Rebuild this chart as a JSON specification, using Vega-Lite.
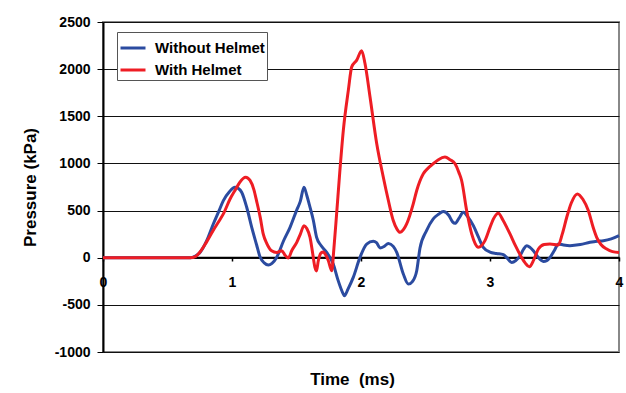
{
  "$schema": "https://vega.github.io/schema/vega-lite/v6.json",
  "width": 516,
  "height": 330,
  "autosize": "none",
  "padding": {"left": 103, "top": 22, "right": 7, "bottom": 41},
  "background": "white",
  "config": {
    "font": "Liberation Sans",
    "view": {"stroke": "#888", "strokeWidth": 2},
    "axis": {"labelFont": "Liberation Sans", "titleFont": "Liberation Sans", "labelFontWeight": "bold", "titleFontWeight": "bold", "labelColor": "#000", "titleColor": "#000"}
  },
  "datasets": {
    "pressure": [
      {"t": 0, "p": 0, "s": "Without Helmet"},
      {"t": 0.68, "p": 0, "s": "Without Helmet"},
      {"t": 0.72, "p": 20, "s": "Without Helmet"},
      {"t": 0.752, "p": 56, "s": "Without Helmet"},
      {"t": 0.804, "p": 181, "s": "Without Helmet"},
      {"t": 0.855, "p": 358, "s": "Without Helmet"},
      {"t": 0.9, "p": 500, "s": "Without Helmet"},
      {"t": 0.933, "p": 606, "s": "Without Helmet"},
      {"t": 0.98, "p": 700, "s": "Without Helmet"},
      {"t": 1.023, "p": 748, "s": "Without Helmet"},
      {"t": 1.05, "p": 735, "s": "Without Helmet"},
      {"t": 1.075, "p": 695, "s": "Without Helmet"},
      {"t": 1.114, "p": 535, "s": "Without Helmet"},
      {"t": 1.153, "p": 322, "s": "Without Helmet"},
      {"t": 1.19, "p": 140, "s": "Without Helmet"},
      {"t": 1.217, "p": 10, "s": "Without Helmet"},
      {"t": 1.25, "p": -55, "s": "Without Helmet"},
      {"t": 1.282, "p": -78, "s": "Without Helmet"},
      {"t": 1.31, "p": -60, "s": "Without Helmet"},
      {"t": 1.346, "p": 3, "s": "Without Helmet"},
      {"t": 1.4, "p": 180, "s": "Without Helmet"},
      {"t": 1.45, "p": 322, "s": "Without Helmet"},
      {"t": 1.5, "p": 500, "s": "Without Helmet"},
      {"t": 1.53, "p": 600, "s": "Without Helmet"},
      {"t": 1.558, "p": 748, "s": "Without Helmet"},
      {"t": 1.58, "p": 660, "s": "Without Helmet"},
      {"t": 1.6, "p": 560, "s": "Without Helmet"},
      {"t": 1.63, "p": 400, "s": "Without Helmet"},
      {"t": 1.656, "p": 216, "s": "Without Helmet"},
      {"t": 1.69, "p": 130, "s": "Without Helmet"},
      {"t": 1.734, "p": 56, "s": "Without Helmet"},
      {"t": 1.785, "p": -67, "s": "Without Helmet"},
      {"t": 1.82, "p": -230, "s": "Without Helmet"},
      {"t": 1.863, "p": -386, "s": "Without Helmet"},
      {"t": 1.871, "p": -404, "s": "Without Helmet"},
      {"t": 1.9, "p": -330, "s": "Without Helmet"},
      {"t": 1.94, "p": -209, "s": "Without Helmet"},
      {"t": 1.992, "p": 3, "s": "Without Helmet"},
      {"t": 2.044, "p": 145, "s": "Without Helmet"},
      {"t": 2.095, "p": 174, "s": "Without Helmet"},
      {"t": 2.12, "p": 160, "s": "Without Helmet"},
      {"t": 2.147, "p": 103, "s": "Without Helmet"},
      {"t": 2.18, "p": 120, "s": "Without Helmet"},
      {"t": 2.212, "p": 152, "s": "Without Helmet"},
      {"t": 2.25, "p": 120, "s": "Without Helmet"},
      {"t": 2.277, "p": 56, "s": "Without Helmet"},
      {"t": 2.328, "p": -173, "s": "Without Helmet"},
      {"t": 2.367, "p": -280, "s": "Without Helmet"},
      {"t": 2.4, "p": -250, "s": "Without Helmet"},
      {"t": 2.432, "p": -138, "s": "Without Helmet"},
      {"t": 2.457, "p": 100, "s": "Without Helmet"},
      {"t": 2.508, "p": 287, "s": "Without Helmet"},
      {"t": 2.56, "p": 412, "s": "Without Helmet"},
      {"t": 2.6, "p": 460, "s": "Without Helmet"},
      {"t": 2.638, "p": 489, "s": "Without Helmet"},
      {"t": 2.68, "p": 450, "s": "Without Helmet"},
      {"t": 2.71, "p": 380, "s": "Without Helmet"},
      {"t": 2.729, "p": 365, "s": "Without Helmet"},
      {"t": 2.76, "p": 420, "s": "Without Helmet"},
      {"t": 2.793, "p": 482, "s": "Without Helmet"},
      {"t": 2.83, "p": 430, "s": "Without Helmet"},
      {"t": 2.871, "p": 340, "s": "Without Helmet"},
      {"t": 2.91, "p": 220, "s": "Without Helmet"},
      {"t": 2.948, "p": 110, "s": "Without Helmet"},
      {"t": 3.0, "p": 60, "s": "Without Helmet"},
      {"t": 3.05, "p": 45, "s": "Without Helmet"},
      {"t": 3.104, "p": 32, "s": "Without Helmet"},
      {"t": 3.13, "p": 0, "s": "Without Helmet"},
      {"t": 3.168, "p": -50, "s": "Without Helmet"},
      {"t": 3.2, "p": -30, "s": "Without Helmet"},
      {"t": 3.233, "p": 21, "s": "Without Helmet"},
      {"t": 3.26, "p": 90, "s": "Without Helmet"},
      {"t": 3.285, "p": 128, "s": "Without Helmet"},
      {"t": 3.31, "p": 110, "s": "Without Helmet"},
      {"t": 3.336, "p": 74, "s": "Without Helmet"},
      {"t": 3.37, "p": 10, "s": "Without Helmet"},
      {"t": 3.414, "p": -39, "s": "Without Helmet"},
      {"t": 3.44, "p": -30, "s": "Without Helmet"},
      {"t": 3.465, "p": 3, "s": "Without Helmet"},
      {"t": 3.5, "p": 80, "s": "Without Helmet"},
      {"t": 3.53, "p": 146, "s": "Without Helmet"},
      {"t": 3.57, "p": 135, "s": "Without Helmet"},
      {"t": 3.62, "p": 128, "s": "Without Helmet"},
      {"t": 3.7, "p": 140, "s": "Without Helmet"},
      {"t": 3.775, "p": 163, "s": "Without Helmet"},
      {"t": 3.83, "p": 175, "s": "Without Helmet"},
      {"t": 3.879, "p": 181, "s": "Without Helmet"},
      {"t": 3.94, "p": 200, "s": "Without Helmet"},
      {"t": 4.0, "p": 234, "s": "Without Helmet"},
      {"t": 0, "p": 0, "s": "With Helmet"},
      {"t": 0.674, "p": 0, "s": "With Helmet"},
      {"t": 0.72, "p": 15, "s": "With Helmet"},
      {"t": 0.752, "p": 60, "s": "With Helmet"},
      {"t": 0.8, "p": 160, "s": "With Helmet"},
      {"t": 0.853, "p": 287, "s": "With Helmet"},
      {"t": 0.9, "p": 390, "s": "With Helmet"},
      {"t": 0.933, "p": 465, "s": "With Helmet"},
      {"t": 0.984, "p": 620, "s": "With Helmet"},
      {"t": 1.03, "p": 730, "s": "With Helmet"},
      {"t": 1.06, "p": 800, "s": "With Helmet"},
      {"t": 1.106, "p": 854, "s": "With Helmet"},
      {"t": 1.14, "p": 820, "s": "With Helmet"},
      {"t": 1.17, "p": 720, "s": "With Helmet"},
      {"t": 1.19, "p": 606, "s": "With Helmet"},
      {"t": 1.22, "p": 420, "s": "With Helmet"},
      {"t": 1.242, "p": 252, "s": "With Helmet"},
      {"t": 1.27, "p": 150, "s": "With Helmet"},
      {"t": 1.307, "p": 74, "s": "With Helmet"},
      {"t": 1.346, "p": 56, "s": "With Helmet"},
      {"t": 1.385, "p": 74, "s": "With Helmet"},
      {"t": 1.41, "p": 30, "s": "With Helmet"},
      {"t": 1.437, "p": -3, "s": "With Helmet"},
      {"t": 1.463, "p": 74, "s": "With Helmet"},
      {"t": 1.502, "p": 163, "s": "With Helmet"},
      {"t": 1.53, "p": 250, "s": "With Helmet"},
      {"t": 1.558, "p": 340, "s": "With Helmet"},
      {"t": 1.58, "p": 310, "s": "With Helmet"},
      {"t": 1.605, "p": 216, "s": "With Helmet"},
      {"t": 1.625, "p": 50, "s": "With Helmet"},
      {"t": 1.643, "p": -103, "s": "With Helmet"},
      {"t": 1.655, "p": -140, "s": "With Helmet"},
      {"t": 1.669, "p": -32, "s": "With Helmet"},
      {"t": 1.69, "p": 50, "s": "With Helmet"},
      {"t": 1.708, "p": 60, "s": "With Helmet"},
      {"t": 1.73, "p": 20, "s": "With Helmet"},
      {"t": 1.747, "p": -32, "s": "With Helmet"},
      {"t": 1.773, "p": -138, "s": "With Helmet"},
      {"t": 1.79, "p": 100, "s": "With Helmet"},
      {"t": 1.811, "p": 465, "s": "With Helmet"},
      {"t": 1.835, "p": 900, "s": "With Helmet"},
      {"t": 1.863, "p": 1351, "s": "With Helmet"},
      {"t": 1.902, "p": 1777, "s": "With Helmet"},
      {"t": 1.928, "p": 2024, "s": "With Helmet"},
      {"t": 1.967, "p": 2096, "s": "With Helmet"},
      {"t": 2.005, "p": 2195, "s": "With Helmet"},
      {"t": 2.031, "p": 2060, "s": "With Helmet"},
      {"t": 2.07, "p": 1705, "s": "With Helmet"},
      {"t": 2.122, "p": 1209, "s": "With Helmet"},
      {"t": 2.173, "p": 854, "s": "With Helmet"},
      {"t": 2.21, "p": 620, "s": "With Helmet"},
      {"t": 2.25, "p": 394, "s": "With Helmet"},
      {"t": 2.28, "p": 300, "s": "With Helmet"},
      {"t": 2.302, "p": 269, "s": "With Helmet"},
      {"t": 2.33, "p": 300, "s": "With Helmet"},
      {"t": 2.354, "p": 358, "s": "With Helmet"},
      {"t": 2.405, "p": 571, "s": "With Helmet"},
      {"t": 2.432, "p": 713, "s": "With Helmet"},
      {"t": 2.483, "p": 890, "s": "With Helmet"},
      {"t": 2.52, "p": 950, "s": "With Helmet"},
      {"t": 2.56, "p": 997, "s": "With Helmet"},
      {"t": 2.6, "p": 1040, "s": "With Helmet"},
      {"t": 2.651, "p": 1067, "s": "With Helmet"},
      {"t": 2.69, "p": 1040, "s": "With Helmet"},
      {"t": 2.729, "p": 997, "s": "With Helmet"},
      {"t": 2.76, "p": 900, "s": "With Helmet"},
      {"t": 2.78, "p": 819, "s": "With Helmet"},
      {"t": 2.819, "p": 500, "s": "With Helmet"},
      {"t": 2.858, "p": 252, "s": "With Helmet"},
      {"t": 2.885, "p": 150, "s": "With Helmet"},
      {"t": 2.909, "p": 110, "s": "With Helmet"},
      {"t": 2.935, "p": 130, "s": "With Helmet"},
      {"t": 2.961, "p": 181, "s": "With Helmet"},
      {"t": 3.0, "p": 322, "s": "With Helmet"},
      {"t": 3.03, "p": 420, "s": "With Helmet"},
      {"t": 3.064, "p": 471, "s": "With Helmet"},
      {"t": 3.1, "p": 400, "s": "With Helmet"},
      {"t": 3.13, "p": 322, "s": "With Helmet"},
      {"t": 3.155, "p": 252, "s": "With Helmet"},
      {"t": 3.2, "p": 120, "s": "With Helmet"},
      {"t": 3.245, "p": 3, "s": "With Helmet"},
      {"t": 3.275, "p": -60, "s": "With Helmet"},
      {"t": 3.305, "p": -96, "s": "With Helmet"},
      {"t": 3.34, "p": -20, "s": "With Helmet"},
      {"t": 3.375, "p": 92, "s": "With Helmet"},
      {"t": 3.42, "p": 140, "s": "With Helmet"},
      {"t": 3.465, "p": 146, "s": "With Helmet"},
      {"t": 3.53, "p": 135, "s": "With Helmet"},
      {"t": 3.56, "p": 250, "s": "With Helmet"},
      {"t": 3.595, "p": 429, "s": "With Helmet"},
      {"t": 3.63, "p": 580, "s": "With Helmet"},
      {"t": 3.677, "p": 677, "s": "With Helmet"},
      {"t": 3.72, "p": 620, "s": "With Helmet"},
      {"t": 3.762, "p": 500, "s": "With Helmet"},
      {"t": 3.8, "p": 320, "s": "With Helmet"},
      {"t": 3.827, "p": 216, "s": "With Helmet"},
      {"t": 3.86, "p": 140, "s": "With Helmet"},
      {"t": 3.905, "p": 92, "s": "With Helmet"},
      {"t": 3.95, "p": 65, "s": "With Helmet"},
      {"t": 4.0, "p": 56, "s": "With Helmet"}
    ]
  },
  "data": {"name": "pressure"},
  "encoding": {
    "x": {
      "field": "t", "type": "quantitative",
      "scale": {"domain": [0, 4], "nice": false, "zero": false},
      "axis": {
        "title": "Time\u00a0 (ms)", "values": [0, 1, 2, 3, 4], "labelExpr": "'' + datum.value",
        "offset": -95, "grid": false, "domainColor": "#000", "domainWidth": 1.5,
        "tickColor": "#000", "tickSize": 4, "tickWidth": 1.5,
        "labelFontSize": 14, "labelPadding": 14, "labelFlush": false, "labelOverlap": false,
        "titleFontSize": 17, "titleX": 249, "titleY": 127, "titleBaseline": "alphabetic", "titleAlign": "center"
      }
    },
    "y": {
      "field": "p", "type": "quantitative",
      "scale": {"domain": [-1000, 2500], "nice": false},
      "axis": {
        "title": "Pressure (kPa)", "values": [-1000, -500, 0, 500, 1000, 1500, 2000, 2500],
        "labelExpr": "'' + datum.value", "grid": true, "gridColor": "#111", "gridWidth": 1, "gridOpacity": 1,
        "domainColor": "#000", "domainWidth": 2, "tickColor": "#000", "tickSize": 6, "tickWidth": 1,
        "labelFontSize": 14, "labelPadding": 7,
        "titleFontSize": 17, "titleX": -73, "titleY": 165, "titleAngle": 270,
        "titleAlign": "center", "titleBaseline": "middle"
      }
    },
    "color": {
      "field": "s", "type": "nominal",
      "scale": {"domain": ["Without Helmet", "With Helmet"], "range": ["#2B4BA0", "#EE1D24"]},
      "legend": {
        "title": null, "orient": "none", "legendX": 14, "legendY": 10,
        "fillColor": "white", "strokeColor": "#555", "padding": 2,
        "symbolType": "stroke", "symbolSize": 625, "symbolStrokeWidth": 3,
        "labelFontSize": 15, "labelFontWeight": "bold", "labelFont": "Liberation Sans", "labelColor": "#000",
        "labelOffset": 8, "rowPadding": 0
      }
    }
  },
  "layer": [
    {"transform": [{"filter": "datum.s === 'Without Helmet'"}], "mark": {"type": "line", "strokeWidth": 3, "interpolate": "monotone"}},
    {"transform": [{"filter": "datum.s === 'With Helmet'"}], "mark": {"type": "line", "strokeWidth": 3, "interpolate": "monotone"}}
  ]
}
